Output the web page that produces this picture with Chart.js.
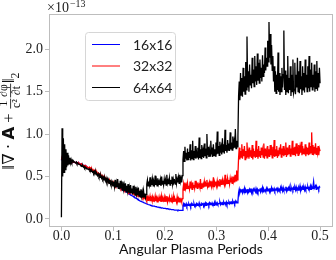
<!DOCTYPE html>
<html><head><meta charset="utf-8">
<script src="https://cdn.jsdelivr.net/npm/chart.js@4.4.1/dist/chart.umd.min.js"></script>
<style>html,body{margin:0;padding:0;background:#fff;overflow:hidden}</style>
</head><body>
<canvas id="c" width="336" height="260"></canvas>
<script>
// time step between samples (angular plasma periods)
const dt = 0.00125;
const seriesLabels = ['16x16', '32x32', '64x64'];
const xTicks = [0.0, 0.1, 0.2, 0.3, 0.4, 0.5];
const yTicks = [0.0, 0.5, 1.0, 1.5, 2.0];
const yExponent = '−13';
const xTitle = 'Angular Plasma Periods';

// values in units of 1e-13, one row = 0.025 periods
const err16 = [
0.69,0.72,0.70,0.71,0.70,0.71,0.69,0.70,0.69,0.69,0.68,0.69,0.68,0.68,0.68,0.68,0.67,0.67,0.67,0.67,
0.67,0.67,0.66,0.67,0.66,0.66,0.65,0.66,0.65,0.65,0.64,0.65,0.64,0.64,0.63,0.63,0.62,0.63,0.62,0.62,
0.61,0.61,0.60,0.60,0.59,0.59,0.58,0.58,0.57,0.57,0.56,0.56,0.55,0.55,0.54,0.54,0.53,0.53,0.52,0.52,
0.51,0.51,0.50,0.50,0.49,0.49,0.48,0.48,0.47,0.47,0.46,0.46,0.45,0.45,0.44,0.44,0.43,0.43,0.42,0.42,
0.41,0.41,0.40,0.40,0.39,0.39,0.38,0.38,0.38,0.37,0.37,0.36,0.36,0.35,0.35,0.34,0.34,0.34,0.33,0.33,
0.32,0.32,0.31,0.31,0.30,0.30,0.29,0.29,0.28,0.28,0.27,0.27,0.26,0.26,0.25,0.25,0.24,0.24,0.23,0.23,
0.22,0.22,0.21,0.21,0.205,0.20,0.20,0.195,0.19,0.19,0.185,0.18,0.18,0.175,0.17,0.17,0.165,0.165,0.16,0.16,
0.155,0.155,0.15,0.15,0.15,0.145,0.145,0.145,0.14,0.14,0.14,0.135,0.135,0.135,0.13,0.13,0.13,0.13,0.125,0.125,
0.125,0.125,0.12,0.12,0.12,0.12,0.115,0.115,0.115,0.115,0.11,0.11,0.11,0.11,0.11,0.105,0.105,0.105,0.105,0.105,
0.10,0.105,0.10,0.10,0.10,0.10,0.10,0.10,0.16,0.18,0.15,0.17,0.16,0.18,0.15,0.17,0.16,0.18,0.16,0.17,
0.15,0.18,0.16,0.17,0.16,0.18,0.15,0.17,0.16,0.18,0.16,0.17,0.16,0.19,0.16,0.17,0.16,0.18,0.17,0.18,
0.16,0.18,0.17,0.19,0.16,0.18,0.17,0.18,0.16,0.19,0.17,0.18,0.17,0.19,0.17,0.18,0.16,0.19,0.17,0.19,
0.17,0.19,0.17,0.18,0.18,0.20,0.17,0.19,0.18,0.19,0.17,0.20,0.18,0.19,0.18,0.20,0.17,0.19,0.18,0.20,
0.18,0.20,0.19,0.20,0.18,0.21,0.19,0.20,0.18,0.21,0.19,0.20,0.19,0.21,0.31,0.35,0.31,0.34,0.32,0.35,
0.31,0.34,0.32,0.36,0.31,0.34,0.32,0.35,0.31,0.34,0.33,0.35,0.32,0.36,0.31,0.34,0.32,0.35,0.33,0.34,
0.32,0.36,0.33,0.35,0.32,0.34,0.33,0.36,0.32,0.35,0.33,0.37,0.32,0.35,0.33,0.34,0.32,0.36,0.33,0.35,
0.33,0.36,0.32,0.35,0.34,0.37,0.33,0.35,0.34,0.36,0.33,0.35,0.34,0.37,0.33,0.36,0.34,0.35,0.33,0.37,
0.34,0.36,0.33,0.37,0.34,0.35,0.34,0.38,0.33,0.36,0.35,0.37,0.34,0.36,0.33,0.38,0.35,0.36,0.34,0.37,
0.35,0.37,0.34,0.38,0.35,0.36,0.34,0.37,0.35,0.39,0.34,0.37,0.36,0.38,0.35,0.37,0.34,0.38,0.35,0.37,
0.36,0.38,0.35,0.37,0.36,0.39,0.35,0.38,0.36,0.38,0.44,0.36,0.36,0.39,0.35,0.38,0.36,0.37,0.35,0.38,
0.37
];
const err32 = [
0.70,0.73,0.68,0.72,0.69,0.71,0.68,0.70,0.69,0.70,0.68,0.69,0.68,0.69,0.68,0.68,0.67,0.68,0.67,0.67,
0.67,0.67,0.66,0.67,0.66,0.66,0.65,0.66,0.65,0.65,0.64,0.65,0.64,0.64,0.63,0.63,0.62,0.63,0.62,0.62,
0.61,0.61,0.60,0.61,0.59,0.60,0.58,0.59,0.57,0.58,0.56,0.57,0.55,0.56,0.54,0.55,0.53,0.54,0.52,0.53,
0.51,0.52,0.50,0.51,0.49,0.50,0.48,0.49,0.47,0.48,0.46,0.47,0.45,0.46,0.44,0.45,0.43,0.44,0.42,0.43,
0.41,0.42,0.40,0.41,0.39,0.41,0.39,0.40,0.38,0.39,0.37,0.38,0.36,0.38,0.36,0.37,0.35,0.36,0.34,0.36,
0.34,0.35,0.33,0.34,0.32,0.34,0.32,0.33,0.31,0.32,0.30,0.32,0.30,0.31,0.29,0.30,0.28,0.30,0.28,0.29,
0.27,0.29,0.26,0.28,0.26,0.27,0.25,0.27,0.24,0.26,0.24,0.26,0.23,0.26,0.22,0.25,0.23,0.27,0.21,0.25,
0.22,0.26,0.21,0.24,0.22,0.27,0.21,0.25,0.20,0.24,0.22,0.26,0.21,0.25,0.20,0.27,0.21,0.24,0.22,0.26,
0.20,0.25,0.21,0.27,0.20,0.24,0.22,0.26,0.21,0.25,0.20,0.24,0.21,0.27,0.20,0.25,0.21,0.24,0.20,0.26,
0.21,0.24,0.20,0.25,0.21,0.23,0.20,0.24,0.35,0.41,0.34,0.43,0.36,0.40,0.35,0.42,0.36,0.39,0.35,0.44,
0.36,0.41,0.35,0.43,0.37,0.40,0.36,0.45,0.37,0.41,0.36,0.43,0.38,0.40,0.37,0.47,0.36,0.42,0.38,0.41,
0.37,0.44,0.38,0.42,0.39,0.46,0.38,0.41,0.37,0.43,0.39,0.45,0.38,0.42,0.39,0.49,0.38,0.43,0.40,0.44,
0.39,0.45,0.40,0.43,0.39,0.47,0.41,0.44,0.40,0.46,0.41,0.43,0.40,0.52,0.42,0.45,0.41,0.48,0.42,0.46,
0.41,0.48,0.43,0.47,0.42,0.50,0.44,0.48,0.43,0.52,0.45,0.57,0.46,0.53,0.72,0.84,0.70,0.80,0.73,0.88,
0.71,0.82,0.74,0.86,0.70,0.80,0.72,0.90,0.73,0.79,0.71,0.84,0.74,0.81,0.72,0.87,0.70,0.83,0.74,0.80,
0.72,0.92,0.73,0.82,0.71,0.86,0.74,0.80,0.72,0.84,0.75,0.81,0.73,0.89,0.71,0.83,0.74,0.80,0.72,0.86,
0.74,0.82,0.73,0.87,0.75,0.81,0.72,0.85,0.74,0.93,0.73,0.82,0.75,0.86,0.72,0.81,0.74,0.84,0.76,0.88,
0.73,0.83,0.75,0.86,0.74,0.81,0.76,0.90,0.73,0.84,0.75,0.82,0.77,0.87,0.74,0.83,0.76,0.92,0.75,0.84,
0.76,0.85,0.74,0.89,0.77,0.83,0.75,0.87,0.76,0.84,0.78,0.91,0.75,0.86,0.77,0.83,0.76,0.88,0.74,0.85,
0.77,0.84,0.75,0.90,0.76,0.86,0.78,1.02,0.76,0.87,0.75,0.85,0.77,0.89,0.76,0.84,0.78,0.86,0.75,0.83,
0.80
];
const err64 = [
0.02,1.07,0.50,0.95,0.55,0.88,0.58,0.82,0.61,0.78,0.63,0.75,0.65,0.72,0.66,0.70,0.67,0.69,0.67,0.68,
0.67,0.67,0.66,0.67,0.65,0.66,0.65,0.65,0.64,0.64,0.63,0.63,0.62,0.63,0.61,0.62,0.60,0.61,0.60,0.60,
0.59,0.59,0.58,0.59,0.57,0.58,0.56,0.57,0.55,0.56,0.54,0.56,0.53,0.55,0.52,0.53,0.51,0.53,0.50,0.52,
0.49,0.51,0.48,0.50,0.47,0.49,0.46,0.48,0.45,0.48,0.44,0.47,0.43,0.46,0.42,0.46,0.41,0.44,0.40,0.43,
0.39,0.44,0.38,0.46,0.37,0.43,0.38,0.47,0.36,0.42,0.35,0.45,0.36,0.41,0.34,0.44,0.35,0.40,0.33,0.42,
0.32,0.39,0.33,0.41,0.31,0.37,0.30,0.40,0.31,0.36,0.29,0.39,0.30,0.35,0.28,0.38,0.29,0.34,0.28,0.37,
0.27,0.33,0.26,0.35,0.27,0.32,0.25,0.33,0.26,0.30,0.25,0.29,0.41,0.46,0.39,0.44,0.40,0.49,0.38,0.45,
0.40,0.47,0.39,0.44,0.41,0.51,0.40,0.45,0.39,0.48,0.41,0.44,0.40,0.46,0.39,0.50,0.41,0.45,0.40,0.47,
0.41,0.46,0.40,0.52,0.42,0.45,0.41,0.48,0.40,0.46,0.42,0.50,0.41,0.47,0.43,0.45,0.41,0.53,0.42,0.47,
0.43,0.49,0.42,0.52,0.44,0.48,0.43,0.51,0.70,0.80,0.68,0.85,0.71,0.78,0.69,0.83,0.70,0.79,0.72,0.88,
0.69,0.81,0.71,0.92,0.70,0.80,0.72,0.86,0.71,0.79,0.73,0.84,0.70,0.96,0.72,0.82,0.71,0.87,0.73,0.80,
0.72,0.89,0.74,0.83,0.72,1.00,0.75,0.85,0.73,0.81,0.74,0.92,0.76,0.84,0.73,0.88,0.75,0.82,0.74,0.90,
0.76,1.03,0.77,0.86,0.75,0.91,0.78,0.84,0.76,0.95,0.79,0.88,0.77,1.05,0.80,0.87,0.78,0.93,0.81,0.89,
0.80,1.02,0.82,0.90,0.81,0.97,0.83,0.91,0.84,1.06,0.83,0.92,0.85,0.98,1.45,1.62,1.40,1.72,1.46,1.66,
1.44,1.78,1.50,1.68,1.47,1.85,1.52,2.15,1.55,1.74,1.50,1.82,1.58,1.70,1.54,1.90,1.60,1.76,1.56,1.92,
1.62,1.80,1.58,1.95,1.63,1.84,1.60,1.88,1.66,1.78,1.62,1.93,1.68,1.82,1.72,2.02,1.75,1.90,1.80,2.10,
1.85,2.32,1.90,2.18,1.82,2.05,1.75,1.92,1.62,1.80,1.50,1.74,1.48,1.70,1.52,1.96,1.50,1.72,1.46,1.68,
1.50,1.78,1.55,1.70,2.22,1.52,1.75,1.46,1.70,1.50,1.92,1.48,1.66,1.52,1.80,1.45,1.70,1.50,1.88,1.48,
1.52,1.84,1.47,1.70,1.55,1.90,1.50,1.74,1.48,1.86,1.53,1.68,1.46,1.80,1.52,1.72,1.49,1.88,1.55,1.70,
1.50,1.80,1.54,1.92,1.50,1.76,1.56,1.84,1.52,1.70,1.55,1.82,1.50,1.74,1.54,1.86,1.51,1.72,1.55,1.78,
1.60
];

const seriesColors = ['#0000ff', '#ff0000', '#000000'];
const toPoints = arr => arr.map((v, i) => ({ x: +(i * dt).toFixed(5), y: v }));

const SERIF = '"Liberation Serif", "DejaVu Serif", serif';
const SANS = 'Lato, "Open Sans", sans-serif';
const FRAME = '#bdbdbd';

function drawYTitle(ctx, cx, cy, targetLen) {
  const main = '14px ' + SERIF;
  const bold = 'bold 14px "DejaVu Sans", sans-serif';
  const small = '10px ' + SERIF;
  const pieces = [
    { t: '‖∇ · ', f: main },
    { t: 'A', f: bold },
    { t: ' + ', f: main },
    { frac: ['1', 'c²'], f: small },
    { frac: ['∂φ', '∂t'], f: small },
    { t: '‖', f: main },
    { t: '2', f: small, sub: true }
  ];
  let total = 0;
  pieces.forEach(p => {
    ctx.font = p.f;
    if (p.frac) p.w = Math.max(ctx.measureText(p.frac[0]).width, ctx.measureText(p.frac[1]).width) + 2;
    else p.w = ctx.measureText(p.t).width;
    total += p.w;
  });
  const s = targetLen / total;
  ctx.save();
  ctx.translate(cx, cy);
  ctx.rotate(-Math.PI / 2);
  ctx.scale(s, s);
  ctx.fillStyle = '#111';
  ctx.strokeStyle = '#111';
  ctx.textBaseline = 'middle';
  let x = -total / 2;
  pieces.forEach(p => {
    ctx.font = p.f;
    if (p.frac) {
      ctx.textAlign = 'center';
      ctx.fillText(p.frac[0], x + p.w / 2, -5);
      ctx.fillText(p.frac[1], x + p.w / 2, 6);
      ctx.lineWidth = 0.7;
      ctx.beginPath(); ctx.moveTo(x + 0.5, 0.5); ctx.lineTo(x + p.w - 0.5, 0.5); ctx.stroke();
    } else {
      ctx.textAlign = 'left';
      ctx.fillText(p.t, x, p.sub ? 5 : 0);
    }
    x += p.w;
  });
  ctx.restore();
}

const decor = {
  id: 'decor',
  afterDatasetsDraw(chart) {
    const { ctx, chartArea: a } = chart;
    ctx.save();
    ctx.strokeStyle = FRAME;
    ctx.lineWidth = 1;
    ctx.strokeRect(Math.round(a.left) + 0.5, Math.round(a.top) + 0.5,
      Math.round(a.right - a.left) - 1, Math.round(a.bottom - a.top) - 1);

    // legend
    const lx = a.left + 36, ly = a.top + 18, lw = 90, lh = 68;
    ctx.beginPath();
    ctx.roundRect(lx + 0.5, ly + 0.5, lw, lh, 3);
    ctx.fillStyle = 'rgba(255,255,255,0.8)';
    ctx.fill();
    ctx.strokeStyle = '#d6d6d6';
    ctx.stroke();
    chart.data.datasets.forEach((ds, k) => {
      const yy = ly + 12 + k * 21.5;
      ctx.strokeStyle = ds.borderColor;
      ctx.lineWidth = 1;
      ctx.beginPath(); ctx.moveTo(lx + 7, yy + 0.5); ctx.lineTo(lx + 35, yy + 0.5); ctx.stroke();
      ctx.fillStyle = '#222';
      ctx.font = '14px ' + SANS;
      ctx.textBaseline = 'middle';
      ctx.textAlign = 'left';
      ctx.fillText(ds.label, lx + 48, yy + 1);
    });

    // exponent label
    ctx.fillStyle = '#222';
    ctx.textBaseline = 'alphabetic';
    ctx.textAlign = 'left';
    ctx.font = '14px ' + SERIF;
    const ex = a.left - 2, ey = a.top - 2;
    ctx.fillText('×10', ex, ey);
    const w = ctx.measureText('×10').width;
    ctx.font = '10px ' + SERIF;
    ctx.fillText(yExponent, ex + w + 1, ey - 5);

    drawYTitle(ctx, 10, 121, 97);
    ctx.restore();
  }
};

new Chart(document.getElementById('c'), {
  type: 'line',
  data: {
    datasets: [
      { label: seriesLabels[0], data: toPoints(err16), borderColor: seriesColors[0], order: 2 },
      { label: seriesLabels[1], data: toPoints(err32), borderColor: seriesColors[1], order: 1 },
      { label: seriesLabels[2], data: toPoints(err64), borderColor: seriesColors[2], order: 0 }
    ]
  },
  options: {
    responsive: false,
    animation: false,
    devicePixelRatio: 1,
    layout: { padding: { top: 14, right: 3, left: 0, bottom: 0 } },
    elements: { point: { radius: 0 }, line: { borderWidth: 1.3, tension: 0, fill: false } },
    plugins: { legend: { display: false }, tooltip: { enabled: false } },
    scales: {
      x: {
        type: 'linear', min: -0.024, max: 0.525,
        afterBuildTicks: s => { s.ticks = xTicks.map(v => ({ value: v })); },
        afterFit: s => { s.height = 33; },
        grid: { drawOnChartArea: false, tickLength: 4, tickColor: FRAME },
        border: { display: false },
        ticks: { padding: -3, color: '#222', maxRotation: 0, autoSkip: false,
          font: { family: SERIF, size: 14 }, callback: v => v.toFixed(1) },
        title: { display: true, text: xTitle, color: '#111',
          font: { family: SANS, size: 14 }, padding: { top: 0, bottom: 2 } }
      },
      y: {
        type: 'linear', min: -0.095, max: 2.415,
        afterBuildTicks: s => { s.ticks = yTicks.map(v => ({ value: v })); },
        afterFit: s => { s.width = 49; },
        grid: { drawOnChartArea: false, tickLength: 4, tickColor: FRAME },
        border: { display: false },
        ticks: { padding: 2, color: '#222', font: { family: SERIF, size: 14 },
          callback: v => v.toFixed(1) }
      }
    }
  },
  plugins: [decor]
});
</script>
</body></html>
